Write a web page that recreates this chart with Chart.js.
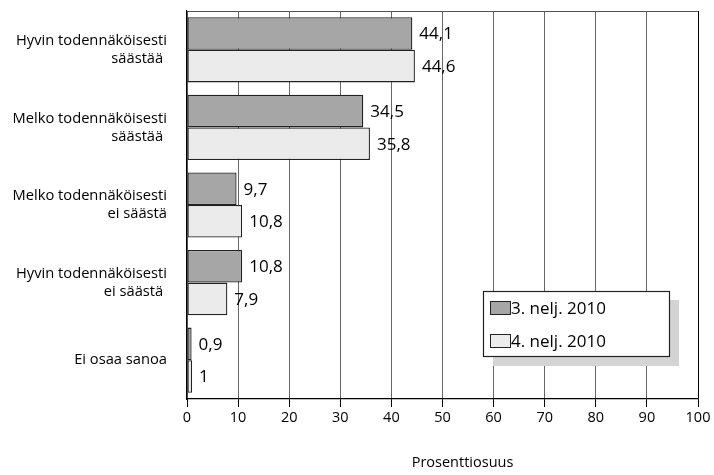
<!DOCTYPE html>
<html>
<head>
<meta charset="utf-8">
<script src="https://cdn.jsdelivr.net/npm/chart.js@4/dist/chart.umd.min.js"></script>
<style>
  html, body { margin: 0; padding: 0; background: #fff; }
  #wrap { width: 714px; height: 475px; }
</style>
</head>
<body>
<div id="wrap"><canvas id="chart" width="714" height="475"></canvas></div>
<script>
const categories = [
    ['Hyvin todennäköisesti', 'säästää '],
    ['Melko todennäköisesti', 'säästää '],
    ['Melko todennäköisesti', 'ei säästä'],
    ['Hyvin todennäköisesti', 'ei säästä '],
    'Ei osaa sanoa'
];
const seriesNames = ['3. nelj. 2010', '4. nelj. 2010'];
const q3Values = [44.1, 34.5, 9.7, 10.8, 0.9];
const q4Values = [44.6, 35.8, 10.8, 7.9, 1];
const xTicks = [0, 10, 20, 30, 40, 50, 60, 70, 80, 90, 100];
const axisTitle = 'Prosenttiosuus';

const FONT = "'Open Sans', 'Liberation Sans', sans-serif";
const colors = ['#a6a6a6', '#ebebeb'];

// value labels at the end of each bar
const valueLabels = {
    id: 'valueLabels',
    afterDatasetsDraw(chart) {
        const ctx = chart.ctx;
        ctx.save();
        ctx.font = '17px ' + FONT;
        ctx.fillStyle = '#000';
        ctx.textAlign = 'left';
        ctx.textBaseline = 'middle';
        chart.data.datasets.forEach((ds, i) => {
            chart.getDatasetMeta(i).data.forEach((bar, j) => {
                ctx.fillText(String(ds.data[j]).replace('.', ','), bar.x + 7, bar.y + 1);
            });
        });
        ctx.restore();
    }
};

// top line, axis title and boxed legend with shadow
const frameAndLegend = {
    id: 'frameAndLegend',
    afterDraw(chart) {
        const ctx = chart.ctx;
        const a = chart.chartArea;
        ctx.save();
        ctx.strokeStyle = '#555';
        ctx.lineWidth = 1;
        ctx.beginPath();
        ctx.moveTo(a.left, a.top + 0.5);
        ctx.lineTo(a.right, a.top + 0.5);
        ctx.stroke();

        ctx.fillStyle = '#000';
        ctx.font = '14.5px ' + FONT;
        ctx.textAlign = 'center';
        ctx.textBaseline = 'middle';
        ctx.fillText(axisTitle, (a.left + a.right) / 2 + 20, 463);
        ctx.textAlign = 'left';

        const lx = a.left + 296, ly = a.top + 280, lw = 186, lh = 65;
        ctx.fillStyle = '#d4d4d4';
        ctx.fillRect(lx + 10, ly + 9, lw, lh + 1);
        ctx.fillStyle = '#fff';
        ctx.fillRect(lx, ly, lw, lh);
        ctx.strokeStyle = '#222';
        ctx.lineWidth = 1.2;
        ctx.strokeRect(lx + 0.5, ly + 0.5, lw, lh);

        ctx.font = '17px ' + FONT;
        seriesNames.forEach((name, i) => {
            const cy = ly + 17 + i * 33;
            ctx.fillStyle = colors[i];
            ctx.fillRect(lx + 7, cy - 7, 20, 13);
            ctx.strokeStyle = '#222';
            ctx.lineWidth = 1;
            ctx.strokeRect(lx + 7.5, cy - 6.5, 20, 13);
            ctx.fillStyle = '#000';
            ctx.fillText(name, lx + 28, cy + 1);
        });
        ctx.restore();
    }
};

new Chart(document.getElementById('chart'), {
    type: 'bar',
    data: {
        labels: categories,
        datasets: [{
            label: seriesNames[0],
            data: q3Values,
            backgroundColor: colors[0],
            borderColor: '#222',
            borderWidth: 1.3,
            borderSkipped: false
        }, {
            label: seriesNames[1],
            data: q4Values,
            backgroundColor: colors[1],
            borderColor: '#222',
            borderWidth: 1.3,
            borderSkipped: false
        }]
    },
    options: {
        indexAxis: 'y',
        responsive: false,
        animation: false,
        layout: { padding: { top: 11, right: 16, left: 0, bottom: 0 } },
        datasets: { bar: { categoryPercentage: 0.84, barPercentage: 1 } },
        plugins: {
            legend: { display: false },
            tooltip: { enabled: false }
        },
        scales: {
            x: {
                min: 0,
                max: 100,
                afterBuildTicks: s => { s.ticks = xTicks.map(v => ({ value: v })); },
                afterFit: s => { s.height = 76; },
                grid: {
                    color: c => c.tick && c.tick.value === 100 ? '#000' : '#666',
                    tickColor: '#000',
                    tickLength: 8,
                    lineWidth: 1
                },
                border: { color: '#000', width: 1.2 },
                ticks: {
                    color: '#000',
                    font: { family: FONT, size: 14.5 },
                    padding: 2
                }
            },
            y: {
                afterFit: s => { s.width = 187; s.paddingTop = 0; s.paddingBottom = 0; },
                grid: { display: false, drawTicks: false },
                border: { color: '#000', width: 1.2 },
                ticks: {
                    color: '#000',
                    font: { family: FONT, size: 14.7, lineHeight: 1.22 },
                    padding: 20
                }
            }
        }
    },
    plugins: [valueLabels, frameAndLegend]
});
</script>
</body>
</html>
